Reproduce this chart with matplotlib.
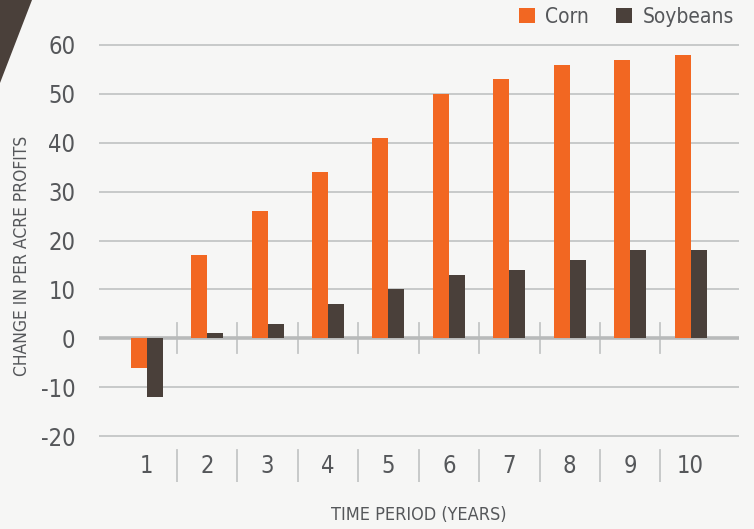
import matplotlib.pyplot as plt
import numpy as np
from matplotlib.patches import Polygon

# data
periods = [1, 2, 3, 4, 5, 6, 7, 8, 9, 10]
corn = [-6, 17, 26, 34, 41, 50, 53, 56, 57, 58]
soybeans = [-12, 1, 3, 7, 10, 13, 14, 16, 18, 18]
y_ticks = [-20, -10, 0, 10, 20, 30, 40, 50, 60]

ORANGE = '#f26722'
BROWN = '#4a403a'
TEXT = '#55575a'
GRID = '#c4c6c6'

plt.rcParams['font.family'] = ['DejaVu Sans']
plt.rcParams['font.stretch'] = 'condensed'

fig = plt.figure(figsize=(7.54, 5.29), dpi=100)
fig.patch.set_facecolor('#f6f6f5')

# dark corner triangle top-left
tri = Polygon([(0, 1), (32 / 754, 1), (0, 1 - 83 / 529)], closed=True,
              transform=fig.transFigure, facecolor=BROWN, edgecolor='none')
fig.patches.append(tri)

ax = fig.add_axes([99 / 754, 1 - 482 / 529, (739 - 99) / 754, (482 - 30) / 529])
ax.set_facecolor('none')

x = np.array(periods, dtype=float)
w = 0.265
ax.bar(x - w / 2, corn, w, color=ORANGE, label='Corn', zorder=3)
ax.bar(x + w / 2, soybeans, w, color=BROWN, label='Soybeans', zorder=3)

ax.set_xlim(0.21, 10.8)
# y scale: 60 at px 45, -20 at px 436 ; axes from px 30 to 482
px_per = (436 - 45) / 80.0
ymax = 60 + (45 - 30) / px_per
ymin = -20 - (482 - 436) / px_per
ax.set_ylim(ymin, ymax)

for v in y_ticks:
    if v == 0:
        ax.axhline(0, color='#b8baba', lw=2.6, zorder=2)
    else:
        ax.axhline(v, color=GRID, lw=1.3, zorder=1)

# category separators near zero line and at the bottom
seps = x[:-1] + 0.5
for s in seps:
    ax.plot([s, s], [3.2, -3.1], color=GRID, lw=1.3, zorder=1)
    ax.plot([s, s], [-22.9, -29.4], color=GRID, lw=1.3, zorder=1)

ax.set_yticks(y_ticks)
ax.set_yticklabels([str(v) for v in y_ticks], fontsize=17, color=TEXT)
ax.tick_params(axis='y', length=0, pad=17)
ax.set_xticks([])
for p in periods:
    ax.text(p, -26.2, str(p), ha='center', va='center', fontsize=17, color=TEXT)

for sp in ax.spines.values():
    sp.set_visible(False)

fig.text(22 / 754, 1 - 256 / 529, 'CHANGE IN PER ACRE PROFITS', rotation=90,
         ha='center', va='center', fontsize=12.5, color=TEXT)
fig.text(419 / 754, 1 - 515 / 529, 'TIME PERIOD (YEARS)', ha='center',
         va='center', fontsize=13, color=TEXT)

leg = ax.legend(loc='upper right', bbox_to_anchor=(1.005, 1.07), ncol=2, frameon=False,
                fontsize=15, handlelength=0.75, handleheight=0.75, columnspacing=1.3,
                handletextpad=0.5, borderaxespad=0)
for t in leg.get_texts():
    t.set_color(TEXT)

fig.savefig('out.png', dpi=100, facecolor=fig.get_facecolor())
